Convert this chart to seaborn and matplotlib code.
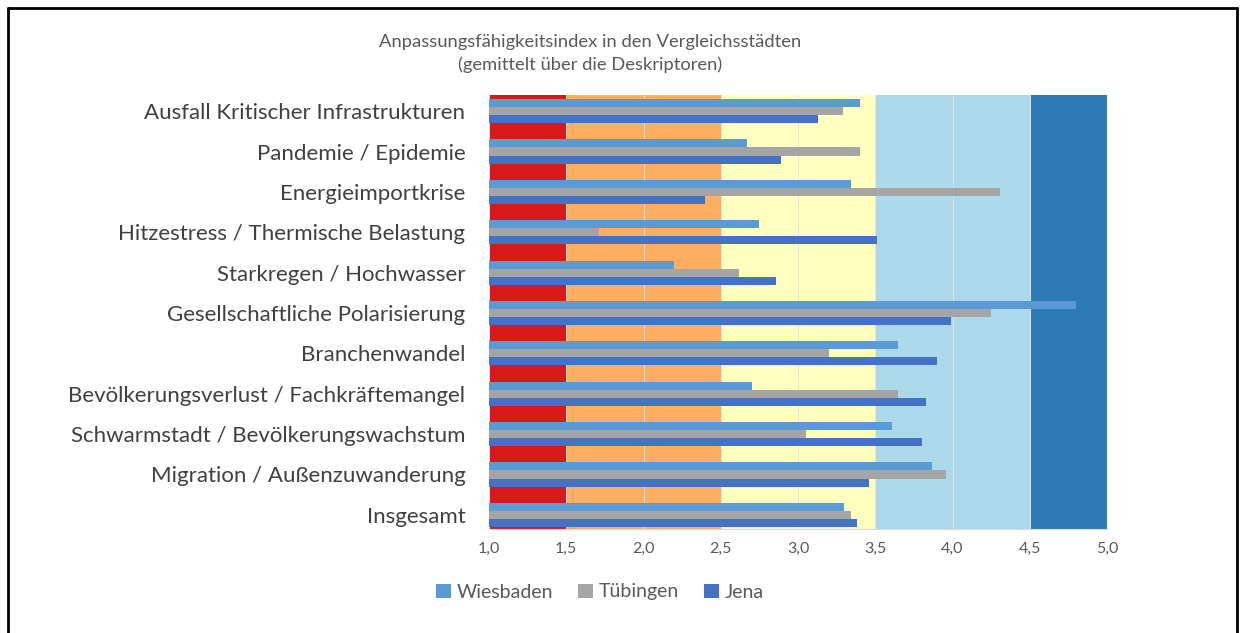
import matplotlib
matplotlib.use("Agg")
import matplotlib.pyplot as plt
import seaborn as sns
import pandas as pd
import numpy as np
from matplotlib.lines import Line2D
from matplotlib.patches import Patch

categories = [
    "Ausfall Kritischer Infrastrukturen",
    "Pandemie / Epidemie",
    "Energieimportkrise",
    "Hitzestress / Thermische Belastung",
    "Starkregen / Hochwasser",
    "Gesellschaftliche Polarisierung",
    "Branchenwandel",
    "Bevölkerungsverlust / Fachkräftemangel",
    "Schwarmstadt / Bevölkerungswachstum",
    "Migration / Außenzuwanderung",
    "Insgesamt",
]
wiesbaden = [3.40, 2.67, 3.34, 2.75, 2.20, 4.80, 3.65, 2.70, 3.61, 3.87, 3.30]
tuebingen = [3.29, 3.40, 4.31, 1.71, 2.62, 4.25, 3.20, 3.65, 3.05, 3.96, 3.34]
jena = [3.13, 2.89, 2.40, 3.51, 2.86, 3.99, 3.90, 3.83, 3.80, 3.46, 3.38]
cities = ["Wiesbaden", "Tübingen", "Jena"]
city_colors = ["#5B9BD5", "#A5A5A5", "#4472C4"]

band_edges = [1.0, 1.5, 2.5, 3.5, 4.5, 5.0]
band_colors = ["#D7191C", "#FDAE61", "#FFFFBF", "#ABD9E9", "#2C7BB6"]
tick_values = [1.0, 1.5, 2.0, 2.5, 3.0, 3.5, 4.0, 4.5, 5.0]

title_lines = ["Anpassungsfähigkeitsindex in den Vergleichsstädten",
               "(gemittelt über die Deskriptoren)"]

df = pd.DataFrame({
    "Kategorie": categories * 3,
    "Stadt": sum([[c] * len(categories) for c in cities], []),
    "Wert": wiesbaden + tuebingen + jena,
})

sns.set_theme(style="white")
plt.rcParams["font.family"] = ["Lato", "DejaVu Sans"]

W, H = 1245, 633
fig = plt.figure(figsize=(W / 100, H / 100), dpi=100)
fig.patch.set_facecolor("white")
ax = fig.add_axes([489 / W, 1 - 529 / H, (1107 - 489) / W, (529 - 95) / H])

y_top, y_bot = -0.40, 10.35

# background bands (stacked bar spanning the whole category range)
for lo, hi, col in zip(band_edges[:-1], band_edges[1:], band_colors):
    ax.barh(y=(y_top + y_bot) / 2, width=hi - lo, left=lo, height=y_bot - y_top,
            color=col, edgecolor="none", zorder=0.5)

sns.barplot(data=df, y="Kategorie", x="Wert", hue="Stadt", orient="h",
            palette=city_colors, hue_order=cities, order=categories,
            width=0.6, dodge=True, ax=ax, legend=False, zorder=3,
            saturation=1, linewidth=0, err_kws={"linewidth": 0})

ax.set_xlim(1.0, 5.0)
ax.set_ylim(y_bot, y_top)
ax.set_xticks(tick_values)
ax.set_xticklabels([f"{v:.1f}".replace(".", ",") for v in tick_values],
                   color="#595959", fontsize=11.5)
ax.tick_params(axis="x", length=0, pad=9)
ax.tick_params(axis="y", length=0, pad=17)
for lab in ax.get_yticklabels():
    lab.set_fontsize(16)
    lab.set_color("#404040")
ax.set_xlabel("")
ax.set_ylabel("")
ax.set_axisbelow(False)
ax.xaxis.grid(True, color="#E3E3E3", linewidth=0.7, zorder=2)
ax.yaxis.grid(False)
for s in ["top", "right", "left"]:
    ax.spines[s].set_visible(False)
ax.spines["bottom"].set_color("#D9D9D9")
ax.spines["bottom"].set_linewidth(0.8)

fig.text(590 / W, 1 - 42 / H, title_lines[0], ha="center", va="center",
         fontsize=13.2, color="#595959")
fig.text(590 / W, 1 - 65 / H, title_lines[1], ha="center", va="center",
         fontsize=13.2, color="#595959")

handles = [Patch(facecolor=c, edgecolor="none") for c in city_colors]
fig.legend(handles, cities, loc="center", bbox_to_anchor=(600 / W, 1 - 592 / H),
           ncol=3, frameon=False, fontsize=14, labelcolor="#595959",
           handlelength=0.75, handleheight=0.75, handletextpad=0.3,
           columnspacing=1.3)

# outer frame
lw = 2
fig.add_artist(Line2D([8 / W, 8 / W], [0, 1 - 8 / H], color="black", lw=lw,
                      transform=fig.transFigure))
fig.add_artist(Line2D([8 / W, 1237 / W], [1 - 8 / H, 1 - 8 / H], color="black",
                      lw=lw, transform=fig.transFigure))
fig.add_artist(Line2D([1237 / W, 1237 / W], [0, 1 - 8 / H], color="black",
                      lw=lw, transform=fig.transFigure))

fig.savefig("out.png", dpi=100)
